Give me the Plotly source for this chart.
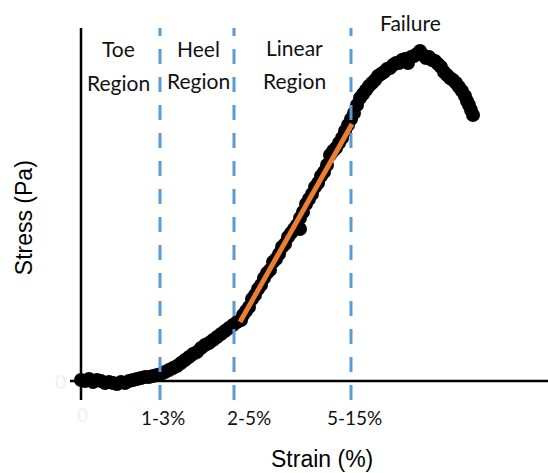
import plotly.graph_objects as go

# Strain (arbitrary units) and stress (Pa, arbitrary)
strain = [0.0, 0.4, 0.8, 1.2, 1.6, 2.0, 2.4, 2.8, 3.2, 3.6, 4.0, 4.4, 4.8, 5.2, 5.6, 6.0, 6.4, 6.8,
          7.2, 7.6, 8.0, 8.4, 8.8, 9.2, 9.6, 10.0, 10.4, 10.8, 11.2, 11.6, 12.0, 12.4, 12.8, 13.2,
          13.6, 14.0, 14.4, 14.8, 15.2, 15.6, 16.0,
          16.2, 16.5, 16.8, 17.1, 17.4, 17.7, 18.0, 18.3, 18.6, 18.9, 19.2, 19.5, 19.8, 20.1, 20.4,
          20.7, 21.0, 21.3, 21.6, 21.9, 21.9, 22.2, 22.5, 22.8, 23.1, 23.4, 23.7, 24.0, 24.3, 24.6,
          24.9, 25.2, 25.5, 25.8, 26.1, 26.4, 26.7, 27.0,
          27.3, 27.6, 27.9, 28.2, 28.5, 28.8, 29.1, 29.4, 29.7, 30.0, 30.3, 30.6, 30.9, 31.2, 31.5,
          31.8, 32.1, 32.4, 32.7, 33.0, 33.3, 33.6, 33.9, 34.2, 34.5, 34.8, 35.1, 35.4, 35.7, 36.0,
          36.3, 36.6, 36.9, 37.2, 37.5, 37.8, 38.1, 38.4, 38.6, 38.8, 39.0, 39.2]
stress = [1, 0, 2, -1, 1, 0, -2, -1, -2, -3, -1, -2, 0, 1, 2, 3, 4, 4,
          5, 6, 7, 9, 11, 13, 15, 18, 21, 24, 27, 29, 33, 36, 38, 41,
          44, 47, 50, 53, 56, 59, 61,
          66, 70, 74, 82, 86, 92, 96, 103, 108, 111, 119, 122, 127, 134, 137,
          144, 148, 152, 156, 152, 163, 169, 177, 182, 187, 194, 198, 205, 209, 216,
          226, 230, 233, 238, 243, 250, 256, 262,
          268, 276, 283, 287, 291, 295, 298, 301, 305, 307, 309, 312, 313, 316, 318,
          318, 321, 322, 318, 324, 325, 327, 330, 326, 323, 324, 321, 320, 317, 314,
          309, 306, 303, 301, 298, 294, 290, 285, 280, 276, 271, 266]

# Linear-region fit (orange)
fit_strain = [15.9, 27.1]
fit_stress = [59, 257]

# Region boundaries (dashed lines)
boundaries = [7.9, 15.3, 27.0]

# Tick labels under the x axis
tick_vals = [8.2, 16.8, 27.3]
tick_text = ["1-3%", "2-5%", "5-15%"]

region_labels = [
    (3.7, 333, "Toe"), (3.7, 299, "Region"),
    (11.7, 333, "Heel"), (11.7, 301, "Region"),
    (21.3, 334, "Linear"), (21.3, 301, "Region"),
]
failure_label = (32.9, "Failure")

label_font = dict(family="Lato, Carlito, sans-serif", size=21, color="#111111")
title_font = dict(family="Liberation Sans, Arial, sans-serif", size=23, color="black")

fig = go.Figure()

fig.add_trace(go.Scatter(
    x=strain, y=stress, mode="markers",
    marker=dict(color="black", size=14, line=dict(width=0)),
    showlegend=False, hoverinfo="skip", cliponaxis=False))

fig.add_trace(go.Scatter(
    x=fit_strain, y=fit_stress, mode="lines",
    line=dict(color="#ED7D31", width=5),
    showlegend=False, hoverinfo="skip"))

for b in boundaries:
    fig.add_shape(type="line", x0=b, x1=b, y0=0, y1=1, xref="x", yref="paper",
                  line=dict(color="#5B9BD5", width=3, dash="15px,13px"), layer="above")

# axis lines crossing at origin
fig.add_shape(type="line", x0=0, x1=0, y0=0, y1=1, xref="x", yref="paper",
              line=dict(color="black", width=2.5), layer="below")
fig.add_shape(type="line", x0=0, x1=1, y0=0, y1=0, xref="paper", yref="y",
              line=dict(color="black", width=2.5), layer="below")

anns = []
for x, y, t in region_labels:
    anns.append(dict(x=x, y=y, xref="x", yref="y", text=t, showarrow=False,
                     font=label_font, xanchor="center", yanchor="middle"))
anns.append(dict(x=failure_label[0], y=1.016, xref="x", yref="paper", text=failure_label[1],
                 showarrow=False, font=label_font, xanchor="center", yanchor="middle"))
for x, t in zip(tick_vals, tick_text):
    anns.append(dict(x=x, y=-0.046, xref="x", yref="paper", text=t, showarrow=False,
                     font=dict(family="Lato, Carlito, sans-serif", size=19, color="#111111"),
                     xanchor="center", yanchor="middle"))
# faint zero labels
anns.append(dict(x=0.1, y=-0.04, xref="x", yref="paper", text="0", showarrow=False,
                 font=dict(family="Lato, sans-serif", size=19, color="#f0f0f0"),
                 xanchor="center", yanchor="middle"))
anns.append(dict(x=-0.005, y=0, xref="paper", yref="y", text="0", showarrow=False,
                 font=dict(family="Lato, sans-serif", size=19, color="#f0f0f0"),
                 xanchor="right", yanchor="middle"))
# axis titles
anns.append(dict(x=0.527, y=-0.159, xref="paper", yref="paper", text="Strain (%)",
                 showarrow=False, font=title_font, xanchor="center", yanchor="middle"))
anns.append(dict(x=-0.096, y=0.489, xref="paper", yref="paper", text="Stress (Pa)",
                 showarrow=False, font=title_font, xanchor="center", yanchor="middle",
                 textangle=-90))

fig.update_layout(
    width=548, height=473,
    margin=dict(l=70, r=0, t=28, b=73, autoexpand=False),
    paper_bgcolor="white", plot_bgcolor="white",
    annotations=anns,
    xaxis=dict(range=[-1.1, 46.7], showgrid=False, zeroline=False, showline=False,
               showticklabels=False, ticks="", automargin=False),
    yaxis=dict(range=[-19, 353], showgrid=False, zeroline=False, showline=False,
               showticklabels=False, ticks="", automargin=False),
)

fig.write_html("out.html", config={"displayModeBar": False},
               post_script="document.body.style.margin='0';")
